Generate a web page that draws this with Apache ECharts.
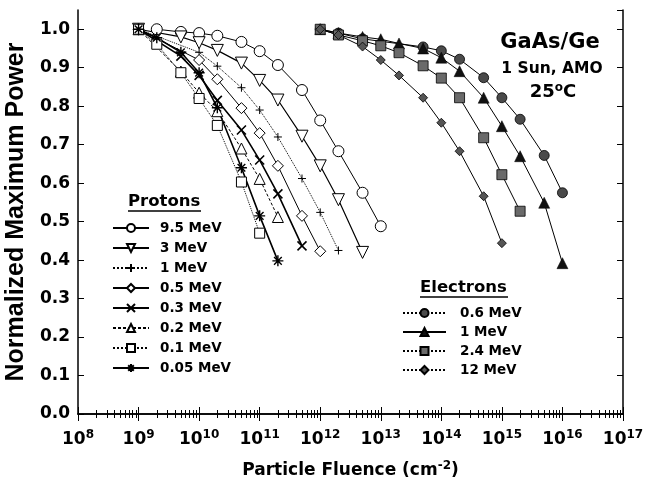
<!DOCTYPE html>
<html lang="en">
<head>
  <meta charset="UTF-8">
  <script src="https://cdn.jsdelivr.net/npm/echarts@6/dist/echarts.min.js"></script>
</head>
<body style="margin:0;background:#fff;">
  <div id="fluenceChart" style="width:645px;height:489px;"></div>

  <script type="text/javascript">
    // proton curves (fluence in cm^-2, normalized Pmax)
    var p95Fluence = [2e9, 5e9, 1e10, 2e10, 5e10, 1e11, 2e11, 5e11, 1e12, 2e12, 5e12, 1e13];
    var p95Power   = [1.0, 0.993, 0.99, 0.983, 0.967, 0.943, 0.907, 0.842, 0.763, 0.683, 0.575, 0.488];
    var p3Fluence  = [1e9, 5e9, 1e10, 2e10, 5e10, 1e11, 2e11, 5e11, 1e12, 2e12, 5e12];
    var p3Power    = [1.0, 0.98, 0.965, 0.945, 0.912, 0.867, 0.816, 0.722, 0.645, 0.557, 0.42];
    var p1Fluence  = [1e9, 1e10, 2e10, 5e10, 1e11, 2e11, 5e11, 1e12, 2e12];
    var p1Power    = [1.0, 0.94, 0.904, 0.848, 0.79, 0.72, 0.612, 0.524, 0.425];
    var p05Fluence = [1e9, 1e10, 2e10, 5e10, 1e11, 2e11, 5e11, 1e12];
    var p05Power   = [1.0, 0.92, 0.87, 0.795, 0.73, 0.645, 0.515, 0.423];
    var p03Fluence = [1e9, 5e9, 1e10, 2e10, 5e10, 1e11, 2e11, 5e11];
    var p03Power   = [1.0, 0.93, 0.88, 0.815, 0.738, 0.66, 0.572, 0.437];
    var p02Fluence = [1e9, 5e9, 1e10, 2e10, 5e10, 1e11, 2e11];
    var p02Power   = [1.0, 0.89, 0.835, 0.787, 0.69, 0.611, 0.512];
    var p01Fluence = [1e9, 2e9, 5e9, 1e10, 2e10, 5e10, 1e11];
    var p01Power   = [1.0, 0.961, 0.887, 0.82, 0.75, 0.603, 0.47];
    var p005Fluence = [1e9, 2e9, 5e9, 1e10, 2e10, 5e10, 1e11, 2e11];
    var p005Power   = [1.0, 0.978, 0.94, 0.887, 0.796, 0.64, 0.515, 0.398];

    // electron curves
    var e06Fluence = [1e12, 2e12, 5e12, 5e13, 1e14, 2e14, 5e14, 1e15, 2e15, 5e15, 1e16];
    var e06Power   = [1.0, 0.99, 0.975, 0.954, 0.944, 0.922, 0.874, 0.822, 0.766, 0.672, 0.575];
    var e1Fluence  = [1e12, 2e12, 5e12, 1e13, 2e13, 5e13, 1e14, 2e14, 5e14, 1e15, 2e15, 5e15, 1e16];
    var e1Power    = [1.0, 0.99, 0.98, 0.974, 0.963, 0.95, 0.926, 0.891, 0.822, 0.748, 0.67, 0.549, 0.392];
    var e24Fluence = [1e12, 2e12, 5e12, 1e13, 2e13, 5e13, 1e14, 2e14, 5e14, 1e15, 2e15];
    var e24Power   = [1.0, 0.985, 0.97, 0.957, 0.939, 0.905, 0.873, 0.822, 0.718, 0.622, 0.527];
    var e12Fluence = [1e12, 2e12, 5e12, 1e13, 2e13, 5e13, 1e14, 2e14, 5e14, 1e15];
    var e12Power   = [1.0, 0.985, 0.955, 0.92, 0.88, 0.822, 0.757, 0.683, 0.566, 0.444];

    var protonNames   = ['9.5 MeV', '3 MeV', '1 MeV', '0.5 MeV', '0.3 MeV', '0.2 MeV', '0.1 MeV', '0.05 MeV'];
    var electronNames = ['0.6 MeV', '1 MeV', '2.4 MeV', '12 MeV'];

    var FONT = '"DejaVu Sans", sans-serif';
    var FONT_Y = '"Liberation Sans", Arial, sans-serif';
    var PLUS  = 'path://M5,0L5,10M0,5L10,5';
    var CROSS = 'path://M0,0L10,10M10,0L0,10';
    var STAR  = 'path://M5,0L5,10M0,5L10,5M1.5,1.5L8.5,8.5M8.5,1.5L1.5,8.5';

    function pairs(xs, ys) {
      return xs.map(function (x, i) { return [x, ys[i]]; });
    }

    function makeSeries(name, xs, ys, st) {
      return {
        name: name,
        type: 'line',
        data: pairs(xs, ys),
        symbol: st.symbol,
        symbolSize: st.size,
        symbolRotate: st.rotate || 0,
        showAllSymbol: true,
        lineStyle: { color: '#000', width: st.width || 1, type: st.type || 'solid' },
        itemStyle: { color: st.fill, borderColor: '#000', borderWidth: st.border === undefined ? 1 : st.border },
        emphasis: { disabled: true },
        z: st.z || 2
      };
    }

    var protonData = [
      [p95Fluence, p95Power], [p3Fluence, p3Power], [p1Fluence, p1Power], [p05Fluence, p05Power],
      [p03Fluence, p03Power], [p02Fluence, p02Power], [p01Fluence, p01Power], [p005Fluence, p005Power]
    ];
    var protonStyles = [
      { symbol: 'circle', size: 11, fill: '#fff' },
      { symbol: 'triangle', size: 12, fill: '#fff', rotate: 180, width: 1.2 },
      { symbol: PLUS, size: 8, fill: 'transparent', type: 'dotted' },
      { symbol: 'diamond', size: 11, fill: '#fff' },
      { symbol: CROSS, size: 9, fill: 'transparent', width: 1.6, border: 1.6 },
      { symbol: 'triangle', size: 11, fill: '#fff', type: [3, 2] },
      { symbol: 'rect', size: 10, fill: '#fff', type: 'dotted' },
      { symbol: STAR, size: 11, fill: 'transparent', width: 1.6, border: 1.4 }
    ];
    var electronData = [
      [e06Fluence, e06Power], [e1Fluence, e1Power], [e24Fluence, e24Power], [e12Fluence, e12Power]
    ];
    var electronStyles = [
      { symbol: 'circle', size: 10, fill: '#4a4a4a', border: 0.8 },
      { symbol: 'triangle', size: 11, fill: '#111', border: 0.5 },
      { symbol: 'rect', size: 10, fill: '#6a6a6a', border: 0.8 },
      { symbol: 'diamond', size: 9, fill: '#555', border: 0.8 }
    ];

    var series = [];
    protonNames.forEach(function (n, i) {
      series.push(makeSeries('p:' + n, protonData[i][0], protonData[i][1], protonStyles[i]));
    });
    electronNames.forEach(function (n, i) {
      series.push(makeSeries('e:' + n, electronData[i][0], electronData[i][1], electronStyles[i]));
    });

    function xAxisBase(pos) {
      return {
        type: 'log',
        logBase: 10,
        min: 1e8,
        max: 1e17,
        position: pos,
        axisLine: { lineStyle: { color: '#000', width: 1.5 } },
        axisTick: { inside: true, length: 7, lineStyle: { color: '#000' } },
        minorTick: { show: true, splitNumber: 9, length: 4, lineStyle: { color: '#000' } },
        splitLine: { show: false },
        minorSplitLine: { show: false }
      };
    }

    var xBottom = xAxisBase('bottom');
    xBottom.axisLabel = {
      margin: 15,
      formatter: function (v) {
        return '{b|10}{s|' + Math.round(Math.log10(v)) + '}';
      },
      rich: {
        b: { fontFamily: FONT, fontWeight: 'bold', fontSize: 17, color: '#000' },
        s: { fontFamily: FONT, fontWeight: 'bold', fontSize: 12, color: '#000', padding: [0, 0, 9, 0] }
      }
    };
    xBottom.name = 'Particle Fluence (cm{s|-2})';
    xBottom.nameLocation = 'middle';
    xBottom.nameGap = 46;
    xBottom.nameTextStyle = {
      fontFamily: FONT, fontWeight: 'bold', fontSize: 17, color: '#000',
      rich: { s: { fontFamily: FONT, fontWeight: 'bold', fontSize: 12, color: '#000', padding: [0, 0, 10, 0] } }
    };

    var xTop = xAxisBase('top');
    xTop.axisLabel = { show: false };

    function yAxisBase(pos) {
      return {
        type: 'value',
        min: 0,
        max: 1.05,
        interval: 0.1,
        position: pos,
        axisLine: { show: true, lineStyle: { color: '#000', width: 1.5 } },
        axisTick: { show: true, inside: true, length: 6, lineStyle: { color: '#000' } },
        splitLine: { show: false }
      };
    }
    var yLeft = yAxisBase('left');
    yLeft.axisLabel = {
      margin: 8,
      showMaxLabel: false,
      fontFamily: FONT, fontWeight: 'bold', fontSize: 17, color: '#000',
      formatter: function (v) { return v > 1.001 ? '' : v.toFixed(1); }
    };
    yLeft.name = 'Normalized Maximum Power';
    yLeft.nameLocation = 'middle';
    yLeft.nameGap = 40;
    yLeft.nameTextStyle = { fontFamily: FONT_Y, fontWeight: 'bold', fontSize: 25, color: '#000' };
    var yRight = yAxisBase('right');
    yRight.axisLabel = { show: false };

    var legendBase = {
      orient: 'vertical',
      padding: 0,
      itemHeight: 10,
      selectedMode: false,
      formatter: function (n) { return n.slice(2); },
      textStyle: { fontFamily: FONT, fontWeight: 'bold', fontSize: 13.5, lineHeight: 16, color: '#000' }
    };

    var chart = echarts.init(document.getElementById('fluenceChart'));
    chart.setOption({
      backgroundColor: '#fff',
      animation: false,
      grid: { left: 78, right: 22, top: 10, bottom: 75, containLabel: false, outerBoundsMode: 'none' },
      xAxis: [xBottom, xTop],
      yAxis: [yLeft, yRight],
      legend: [
        Object.assign({}, legendBase, {
          data: protonNames.map(function (n) { return 'p:' + n; }),
          left: 112, top: 220, itemWidth: 36, itemGap: 4,
          textStyle: Object.assign({}, legendBase.textStyle, { padding: [0, 0, 0, 6] })
        }),
        Object.assign({}, legendBase, {
          data: electronNames.map(function (n) {
            return n === '1 MeV' ? 'e:' + n : { name: 'e:' + n, lineStyle: { type: 'dotted' } };
          }),
          left: 402, top: 305, itemWidth: 43, itemGap: 3,
          textStyle: Object.assign({}, legendBase.textStyle, { padding: [0, 0, 0, 9] })
        })
      ],
      graphic: [
        { type: 'text', left: 128, top: 193, style: { text: 'Protons', font: 'bold 16.5px ' + FONT, fill: '#000' } },
        { type: 'line', shape: { x1: 128, y1: 211, x2: 201, y2: 211 }, style: { stroke: '#000', lineWidth: 1.5 } },
        { type: 'text', left: 420, top: 279, style: { text: 'Electrons', font: 'bold 16.5px ' + FONT, fill: '#000' } },
        { type: 'line', shape: { x1: 420, y1: 297, x2: 508, y2: 297 }, style: { stroke: '#000', lineWidth: 1.5 } },
        { type: 'text', x: 550, y: 32, style: { text: 'GaAs/Ge', font: 'bold 21px ' + FONT, fill: '#000', align: 'center' } },
        { type: 'text', x: 552, y: 61, style: { text: '1 Sun, AMO', font: 'bold 15.5px ' + FONT, fill: '#000', align: 'center' } },
        {
          type: 'text', x: 553, y: 82,
          style: {
            text: '25{s|o}C', font: 'bold 18px ' + FONT, fill: '#000', align: 'center',
            rich: { s: { font: 'bold 12px ' + FONT, fill: '#000', padding: [0, 0, 9, 0] } }
          }
        }
      ],
      series: series
    });
  </script>
</body>
</html>
